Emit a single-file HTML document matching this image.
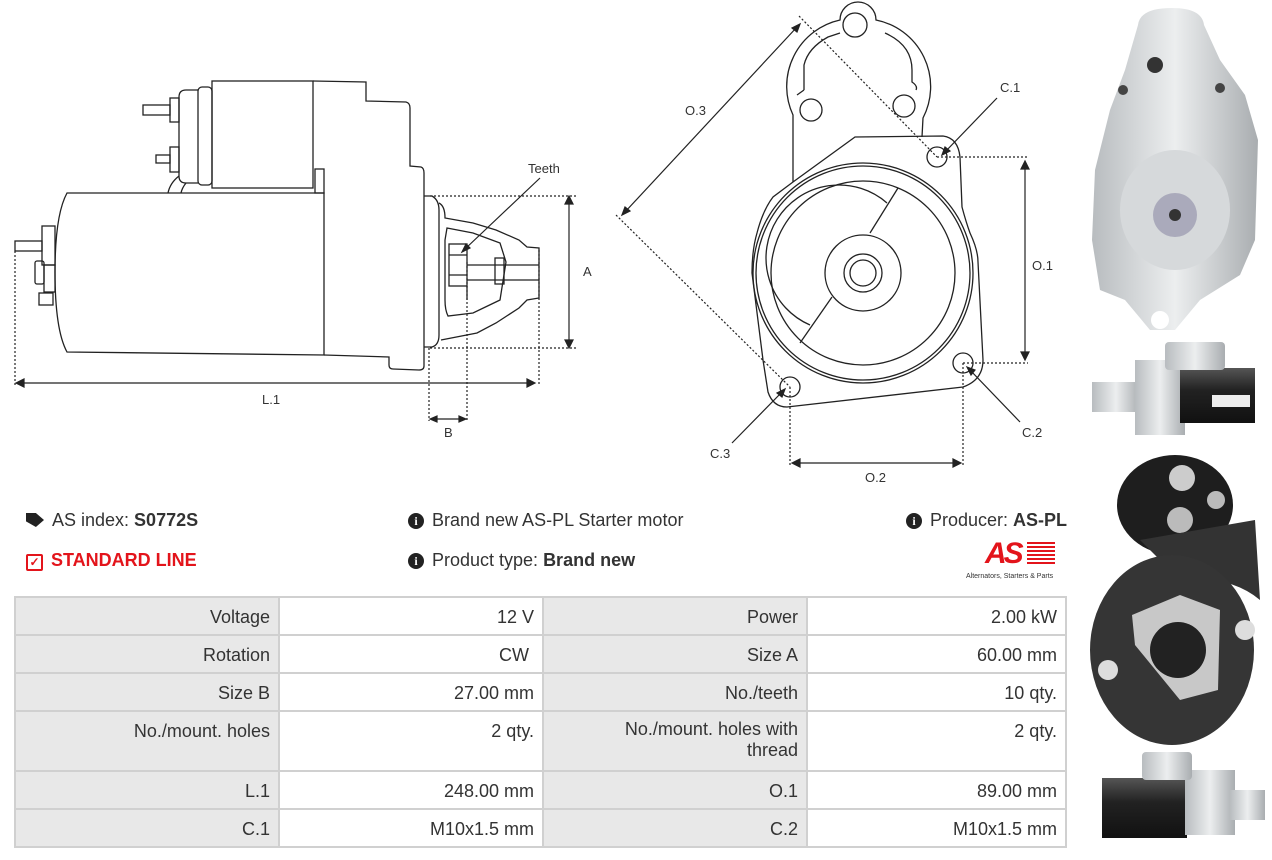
<!DOCTYPE html>
<html><head><meta charset="utf-8">
<style>
html,body{margin:0;padding:0;background:#fff;}
body{width:1272px;height:860px;position:relative;overflow:hidden;font-family:"Liberation Sans",sans-serif;color:#333;}
.abs{position:absolute;}
.t{font-size:18px;white-space:nowrap;}
table{position:absolute;left:14px;top:596px;border-collapse:collapse;width:1053px;font-size:18px;}
td{border:2px solid #d0d0d0;padding:9px 8px 0 8px;text-align:right;vertical-align:top;color:#333;}
td.l{background:#e8e8e8;}
td.v{background:#fff;}
.ico{display:inline-block;width:16px;height:16px;border-radius:50%;background:#222;color:#fff;font-size:12px;font-weight:bold;text-align:center;line-height:16px;font-family:"Liberation Serif",serif;vertical-align:1px;margin-right:8px;}
</style></head><body>

<svg class="abs" style="left:0;top:0" width="1080" height="490" viewBox="0 0 1080 490">
<g fill="none" stroke="#222" stroke-width="1.3">
<path d="M313,81 L366,82 L366,101 L406,102 Q410,103 410,108 L410,166 L421,167 Q424,168 424,173 L424,366 Q424,370 419,370 L393,369 Q389,369 389,365 L389,357 L324,355"/>
<rect x="212" y="81" width="101" height="107" />
<rect x="198" y="87" width="14" height="98" rx="4"/>
<path d="M198,90 L186,90 Q179,90 179,97 L179,176 Q179,183 186,183 L198,183"/>
<rect x="315" y="169" width="9" height="24"/>
<path d="M67,193 L324,193 L324,355 L67,352 Q55,330 55,272 Q55,215 67,193 Z"/>
<path d="M179,176 Q170,183 168,193 M186,183 Q182,188 181,193"/>
<rect x="170" y="98" width="9" height="24"/>
<rect x="143" y="105" width="27" height="10"/>
<rect x="170" y="147" width="9" height="25"/>
<rect x="156" y="155" width="14" height="8"/>
<rect x="42" y="226" width="13" height="39"/>
<rect x="44" y="265" width="11" height="27"/>
<rect x="35" y="261" width="9" height="23" rx="2"/>
<rect x="15" y="241" width="27" height="10"/>
<rect x="39" y="293" width="14" height="12"/>
<path d="M424,196 L432,196 Q439,200 439,210 L439,335 Q439,345 432,347 L424,347"/>
<path d="M439,203 Q445,206 445,218 L473,223 L496,230 L519,240 L527,247 L539,248 L539,298 L527,300 L519,308 L496,323 L477,333 L441,340"/>
<path d="M447,228 L473,233 L500,243 L506,262 L500,300 L473,313 L448,316 Q445,310 445,300 L445,240 Z"/>
<rect x="449" y="244" width="18" height="42"/>
<line x1="467" y1="265" x2="539" y2="265"/><line x1="467" y1="280" x2="539" y2="280"/>
<rect x="495" y="258" width="9" height="26"/>
<line x1="449" y1="255" x2="467" y2="255"/><line x1="449" y1="275" x2="467" y2="275"/>
<line x1="467" y1="286" x2="467" y2="300"/>
</g>
<g fill="none" stroke="#222" stroke-width="1.2" stroke-dasharray="2,2">
<line x1="430" y1="196" x2="576" y2="196"/><line x1="430" y1="348" x2="576" y2="348"/>
<line x1="15" y1="251" x2="15" y2="386"/><line x1="539" y1="250" x2="539" y2="386"/>
<line x1="429" y1="348" x2="429" y2="421"/><line x1="467" y1="262" x2="467" y2="421"/>
</g>
<g stroke="#222" stroke-width="1.2" fill="#222">
<line x1="569" y1="200" x2="569" y2="344"/><path d="M569,196 l-4,8 h8z M569,348 l-4,-8 h8z"/>
<line x1="19" y1="383" x2="532" y2="383"/><path d="M16,383 l8,-4 v8z M535,383 l-8,-4 v8z"/>
<line x1="433" y1="419" x2="463" y2="419"/><path d="M430,419 l7,-3 v6z M466,419 l-7,-3 v6z"/>
<line x1="540" y1="178" x2="465" y2="249"/><path d="M462,252 l4,-8 l4,4z"/>
</g>
<g font-family="Liberation Sans,sans-serif" font-size="13" fill="#333">
<text x="528" y="173">Teeth</text><text x="583" y="276">A</text><text x="262" y="404">L.1</text><text x="444" y="437">B</text>
</g>
<g fill="none" stroke="#222" stroke-width="1.3">
<path d="M793,182 L793,115 A68,68 0 0 1 840,20 A18,18 0 0 1 876,20 A68,68 0 0 1 923,118 L922,137"/>
<path d="M804,90 L804,65 Q808,48 828,37 L840,33 M885,33 Q912,45 912,70 L912,82 Q918,86 916,90"/>
<path d="M804,90 L797,95"/>
<circle cx="855" cy="25" r="12"/><circle cx="811" cy="110" r="11"/><circle cx="904" cy="106" r="11"/>
<path d="M855,137 L943,136 Q958,138 960,157 L962,207 Q966,222 970,233 Q978,250 978,262 L983,360 Q983,380 963,387 L787,407 Q773,407 768,392 L763,360 L752,273 Q752,250 757,233 Q763,210 773,197 L793,182 Z"/>
<circle cx="863" cy="273" r="110"/>
<circle cx="863" cy="273" r="107"/>
<circle cx="863" cy="273" r="92"/>
<path d="M887,203 A73,73 0 1 0 810,325"/>
<line x1="898" y1="188" x2="870" y2="233"/><line x1="832" y1="297" x2="800" y2="343"/>
<circle cx="863" cy="273" r="38"/><circle cx="863" cy="273" r="19"/><circle cx="863" cy="273" r="13"/>
<circle cx="937" cy="157" r="10"/><circle cx="963" cy="363" r="10"/><circle cx="790" cy="387" r="10"/>
</g>
<g fill="none" stroke="#222" stroke-width="1.2" stroke-dasharray="2,2">
<line x1="799" y1="16" x2="937" y2="157"/><line x1="616" y1="215" x2="790" y2="387"/>
<line x1="937" y1="157" x2="1028" y2="157"/><line x1="963" y1="363" x2="1028" y2="363"/>
<line x1="790" y1="387" x2="790" y2="465"/><line x1="963" y1="363" x2="963" y2="465"/>
</g>
<g stroke="#222" stroke-width="1.2" fill="#222">
<line x1="797" y1="27" x2="625" y2="212"/><path d="M800,24 l-3,8 l-5,-4z M622,215 l3,-8 l5,4z"/>
<line x1="1025" y1="165" x2="1025" y2="356"/><path d="M1025,161 l-4,8 h8z M1025,360 l-4,-8 h8z"/>
<line x1="795" y1="463" x2="958" y2="463"/><path d="M792,463 l8,-4 v8z M961,463 l-8,-4 v8z"/>
<line x1="997" y1="98" x2="945" y2="152"/><path d="M942,155 l3,-8 l5,4z"/>
<line x1="1020" y1="422" x2="970" y2="370"/><path d="M967,367 l8,3 l-4,5z"/>
<line x1="732" y1="443" x2="782" y2="392"/><path d="M785,389 l-3,8 l-5,-4z"/>
</g>
<g font-family="Liberation Sans,sans-serif" font-size="13" fill="#333">
<text x="685" y="115">O.3</text><text x="1000" y="92">C.1</text><text x="1032" y="270">O.1</text>
<text x="1022" y="437">C.2</text><text x="710" y="458">C.3</text><text x="865" y="482">O.2</text>
</g>
</svg>

<svg class="abs" style="left:1080px;top:0" width="192" height="860" viewBox="0 0 192 860">
<defs>
<linearGradient id="s" x1="0" x2="1"><stop offset="0" stop-color="#b8bcbf"/><stop offset=".5" stop-color="#eceeef"/><stop offset="1" stop-color="#a9adb0"/></linearGradient>
<linearGradient id="k" x1="0" y1="0" x2="0" y2="1"><stop offset="0" stop-color="#555"/><stop offset=".4" stop-color="#222"/><stop offset="1" stop-color="#111"/></linearGradient>
</defs>
<path d="M58,25 Q60,8 92,8 Q122,8 124,25 L140,60 L165,95 L178,140 L175,240 L160,275 L120,300 L95,330 L70,330 L45,300 L20,290 L12,240 L15,170 L30,110 L45,70 Z" fill="url(#s)"/>
<ellipse cx="95" cy="210" rx="55" ry="60" fill="#d6d9db"/>
<circle cx="95" cy="215" r="22" fill="#aab"/><circle cx="95" cy="215" r="6" fill="#333"/>
<circle cx="75" cy="65" r="8" fill="#333"/><circle cx="43" cy="90" r="5" fill="#444"/><circle cx="140" cy="88" r="5" fill="#444"/>
<circle cx="80" cy="320" r="9" fill="#fff"/>
<rect x="12" y="382" width="48" height="30" fill="url(#s)"/><rect x="55" y="360" width="50" height="75" fill="url(#s)"/>
<rect x="100" y="368" width="75" height="55" fill="url(#k)"/><rect x="85" y="342" width="60" height="28" rx="4" fill="url(#s)"/>
<rect x="132" y="395" width="38" height="12" fill="#eee"/>
<ellipse cx="95" cy="505" rx="58" ry="50" fill="#1e1e1e"/>
<circle cx="102" cy="478" r="13" fill="#ccc"/><circle cx="100" cy="520" r="13" fill="#bbb"/><circle cx="136" cy="500" r="9" fill="#bbb"/>
<path d="M60,540 L175,520 L180,600 Q150,575 100,580 Z" fill="#333"/>
<ellipse cx="92" cy="650" rx="82" ry="95" fill="#353535"/>
<path d="M52,615 L100,595 L140,610 L138,690 L100,700 L55,645 Z" fill="#c8c8c8"/>
<circle cx="98" cy="650" r="28" fill="#222"/>
<circle cx="28" cy="670" r="10" fill="#ddd"/><circle cx="165" cy="630" r="10" fill="#ddd"/>
<rect x="22" y="778" width="85" height="60" fill="url(#k)"/><rect x="105" y="770" width="50" height="65" fill="url(#s)"/>
<rect x="150" y="790" width="35" height="30" fill="url(#s)"/><rect x="62" y="752" width="50" height="28" rx="4" fill="url(#s)"/>
</svg>

<div class="abs t" style="left:26px;top:510px;"><span style="display:inline-block;width:18px;height:14px;background:#222;clip-path:polygon(0 0,55% 0,100% 50%,55% 100%,0 60%);vertical-align:-1px;margin-right:8px"></span>AS index: <b>S0772S</b></div>
<div class="abs t" style="left:26px;top:550px;color:#e3141b;font-weight:bold;"><span style="display:inline-block;width:13px;height:13px;border:2px solid #e3141b;border-radius:2px;font-size:12px;line-height:13px;text-align:center;vertical-align:0px;margin-right:8px">✓</span>STANDARD LINE</div>
<div class="abs t" style="left:408px;top:510px;"><span class="ico">i</span>Brand new AS-PL Starter motor</div>
<div class="abs t" style="left:408px;top:550px;"><span class="ico">i</span>Product type: <b>Brand new</b></div>
<div class="abs t" style="left:906px;top:510px;"><span class="ico">i</span>Producer: <b>AS-PL</b></div>
<div class="abs" style="left:985px;top:538px;width:70px;height:32px;">
<div style="position:absolute;left:0;top:0;font:italic bold 30px 'Liberation Sans',sans-serif;color:#e3141b;letter-spacing:-3px;line-height:32px">AS</div>
<div style="position:absolute;left:42px;top:4px;width:28px;height:24px;background:repeating-linear-gradient(#e3141b 0 2px,#fff 2px 4px)"></div>
</div>
<div class="abs" style="left:966px;top:573px;font-size:7px;color:#333;white-space:nowrap">Alternators, Starters &amp; Parts</div>

<table>
<tr style="height:38px"><td class="l" style="width:246px">Voltage</td><td class="v" style="width:246px">12 V</td><td class="l" style="width:246px">Power</td><td class="v">2.00 kW</td></tr>
<tr style="height:38px"><td class="l">Rotation</td><td class="v">CW&nbsp;</td><td class="l">Size A</td><td class="v">60.00 mm</td></tr>
<tr style="height:38px"><td class="l">Size B</td><td class="v">27.00 mm</td><td class="l">No./teeth</td><td class="v">10 qty.</td></tr>
<tr style="height:60px"><td class="l">No./mount. holes</td><td class="v">2 qty.</td><td class="l" style="line-height:21px;padding-top:7px">No./mount. holes with<br>thread</td><td class="v">2 qty.</td></tr>
<tr style="height:38px"><td class="l">L.1</td><td class="v">248.00 mm</td><td class="l">O.1</td><td class="v">89.00 mm</td></tr>
<tr style="height:38px"><td class="l">C.1</td><td class="v">M10x1.5 mm</td><td class="l">C.2</td><td class="v">M10x1.5 mm</td></tr>
</table>
</body></html>
